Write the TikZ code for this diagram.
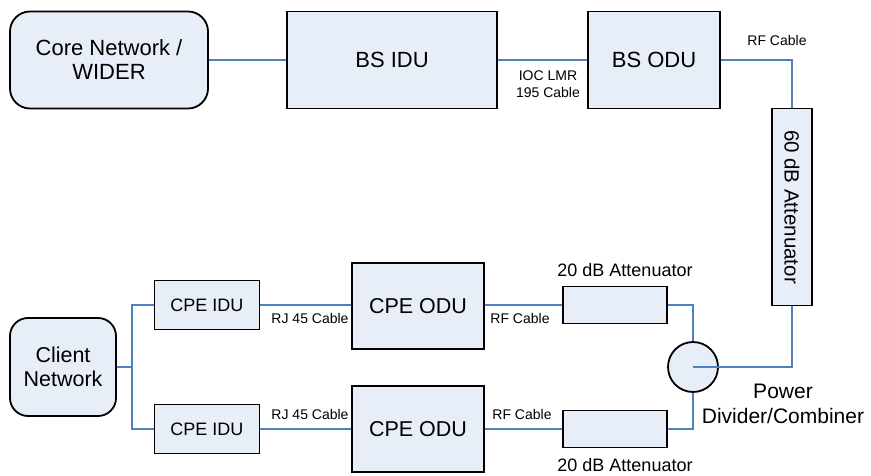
\documentclass[tikz,border=0pt]{standalone}
\usepackage{fontspec}
\setmainfont{Liberation Sans}
\begin{document}
\begin{tikzpicture}[x=1pt,y=-1pt,
  blk/.style={draw=black,line width=1.8pt,fill=boxfill,inner sep=0pt,align=center},
  cable/.style={draw=cableblue,line width=1.8pt},
  lbl/.style={inner sep=0pt,align=center,font=\fontsize{14}{17}\selectfont}]
\definecolor{boxfill}{RGB}{232,238,247}
\definecolor{cableblue}{RGB}{79,129,189}
\useasboundingbox (0,0) rectangle (871,476);
% nodes
\node[blk,rounded corners=20pt,minimum width=198pt,minimum height=97pt,font=\fontsize{22}{24}\selectfont] (core) at (109,60) {Core Network /\\WIDER};
\node[blk,minimum width=210pt,minimum height=97pt,font=\fontsize{22}{24}\selectfont] (bsidu) at (392,60) {BS IDU};
\node[blk,minimum width=132pt,minimum height=97pt,font=\fontsize{22}{24}\selectfont] (bsodu) at (654,60) {BS ODU};
\node[blk,minimum width=40pt,minimum height=197pt] (att60) at (792,207) {};
\node[rotate=-90,inner sep=0pt,font=\fontsize{20.5}{24}\selectfont] (att60t) at (att60.center) {60 dB Attenuator};
\node[blk,circle,minimum size=50pt] (pd) at (693,367) {};
\node[blk,minimum width=104pt,minimum height=37pt] (atta) at (615,305) {};
\node[blk,minimum width=104pt,minimum height=37pt] (attb) at (615,429) {};
\node[blk,minimum width=132pt,minimum height=86pt,font=\fontsize{21.5}{24}\selectfont] (odua) at (418,306) {CPE ODU};
\node[blk,minimum width=132pt,minimum height=86pt,font=\fontsize{21.5}{24}\selectfont] (odub) at (418,429) {CPE ODU};
\node[blk,minimum width=105pt,minimum height=49pt,font=\fontsize{18}{20}\selectfont] (idua) at (207,305) {CPE IDU};
\node[blk,minimum width=105pt,minimum height=49pt,font=\fontsize{18}{20}\selectfont] (idub) at (207,429) {CPE IDU};
\node[blk,rounded corners=18pt,minimum width=106pt,minimum height=98pt,font=\fontsize{21.5}{24}\selectfont] (client) at (63,367) {Client\\Network};
\coordinate (j) at (132,367);
% connectors
\draw[cable] (core.east) -- (bsidu.west);
\draw[cable] (bsidu.east) -- (bsodu.west);
\draw[cable] (bsodu.east) -| (att60.north);
\draw[cable] (att60.south) |- (pd.center);
\draw[cable] (atta.east) -| (pd.north);
\draw[cable] (attb.east) -| (pd.south);
\draw[cable] (odua.east |- atta.east) -- (atta.west);
\draw[cable] (odub.east |- attb.east) -- (attb.west);
\draw[cable] (idua.east) -- (odua.west |- idua.east);
\draw[cable] (idub.east) -- (odub.west |- idub.east);
\draw[cable,line width=2.6pt] (client.east) -- (j);
\draw[cable] (j) |- (idua.west);
\draw[cable] (j) |- (idub.west);
% labels
\node[lbl] (l1) at (548,84) {IOC LMR\\195 Cable};
\node[lbl] (l2) at (777,40) {RF Cable};
\node[lbl] (l3) at (520,318) {RF Cable};
\node[lbl] (l4) at (522,414) {RF Cable};
\node[lbl] (l5) at (310,318) {RJ 45 Cable};
\node[lbl] (l6) at (310,414) {RJ 45 Cable};
\node[inner sep=0pt,font=\fontsize{18}{20}\selectfont] (l7) at (625,270) {20 dB Attenuator};
\node[inner sep=0pt,font=\fontsize{18}{20}\selectfont] (l8) at (625,465) {20 dB Attenuator};
\node[inner sep=0pt,align=center,font=\fontsize{21}{25}\selectfont] (l9) at (783,404) {Power\\Divider/Combiner};
\end{tikzpicture}
\end{document}
